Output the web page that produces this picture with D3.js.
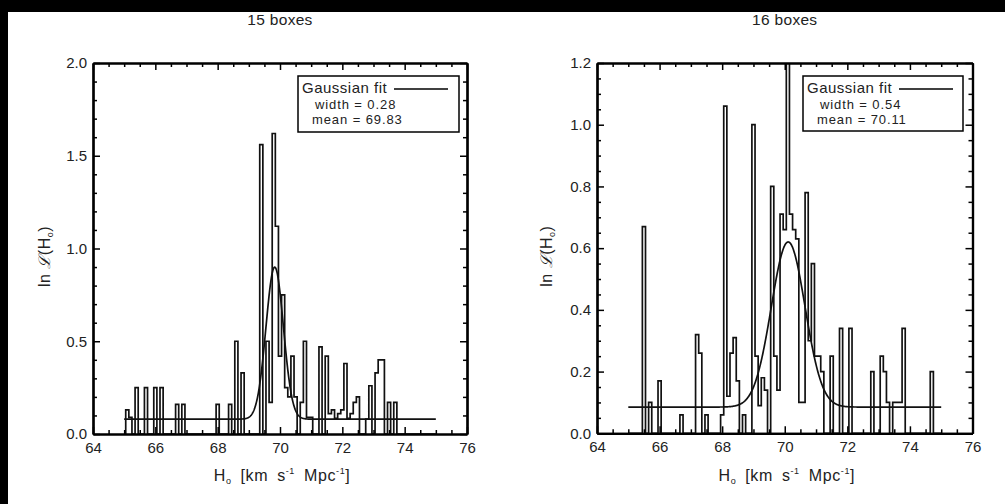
<!DOCTYPE html>
<html><head><meta charset="utf-8">
<script src="https://cdn.jsdelivr.net/npm/d3@7"></script>
<style>body{margin:0;background:#fff}svg{display:block}text{font-family:"Liberation Sans",Arial,sans-serif;fill:#222}</style>
</head><body><svg id="c" width="1005" height="504"></svg>
<script>
// ---------- data ----------
const titles = ["15 boxes", "16 boxes"];
const xTicks = [64, 66, 68, 70, 72, 74, 76];
const yTicksLeft = [0.0, 0.5, 1.0, 1.5, 2.0];
const yTicksRight = [0.0, 0.2, 0.4, 0.6, 0.8, 1.0, 1.2];

// bin centres (km/s/Mpc) and ln L for the non-empty bins, 15 boxes
const binsLeft = [65.1,65.2,65.4,65.7,66.0,66.2,66.7,66.9,68.0,68.4,68.6,68.8,
  69.4,69.6,69.7,69.8,69.9,70.0,70.1,70.2,70.3,70.4,70.5,70.7,70.8,70.9,71.0,
  71.3,71.5,71.6,71.7,71.8,71.9,72.0,72.1,72.2,72.3,72.4,72.5,72.8,72.9,73.1,73.2,73.3,73.5,73.7];
const valsLeft = [0.13,0.09,0.25,0.25,0.25,0.25,0.16,0.16,0.16,0.16,0.50,0.33,
  1.56,0.50,0.17,1.62,1.12,0.42,0.75,0.25,0.20,0.42,0.20,0.17,0.50,0.09,0.09,
  0.47,0.42,0.11,0.13,0.085,0.11,0.13,0.38,0.085,0.11,0.17,0.20,0.08,0.26,0.33,0.40,0.40,0.17,0.17];

// 16 boxes
const binsRight = [65.5,65.7,66.0,66.7,67.2,67.3,67.5,68.0,68.1,68.2,68.3,68.4,68.5,68.7,
  69.0,69.1,69.2,69.3,69.4,69.6,69.7,69.8,69.9,70.0,70.1,70.2,70.3,70.4,70.5,70.6,70.7,70.8,70.9,
  71.0,71.1,71.2,71.5,71.8,72.1,72.8,73.1,73.2,73.3,73.5,73.6,73.7,73.8,74.7];
const valsRight = [0.67,0.10,0.17,0.06,0.32,0.26,0.06,0.06,1.06,0.12,0.26,0.31,0.17,0.06,
  1.00,0.25,0.09,0.18,0.14,0.80,0.25,0.14,0.71,0.66,1.25,0.71,0.66,0.63,0.10,0.10,0.78,0.30,0.55,
  0.25,0.25,0.20,0.25,0.34,0.34,0.20,0.25,0.20,0.10,0.10,0.10,0.10,0.34,0.20];

// Gaussian fit parameters (legend) plus peak and baseline
const fitWidth = [0.28, 0.54];
const fitMean = [69.83, 70.11];
const fitPeak = [0.90, 0.62];
const fitBase = [0.08, 0.085];
const fitRange = [65, 75];
const binStep = 0.1;

// ---------- layout ----------
const svg = d3.select("#c");
svg.append("rect").attr("x", 0).attr("y", 0).attr("width", 1005).attr("height", 12).attr("fill", "#000");
svg.append("rect").attr("x", 0).attr("y", 0).attr("width", 8).attr("height", 504).attr("fill", "#000");

const FONT = '"Liberation Sans",Arial,sans-serif';
const panels = [
  {x0: 93, x1: 467, yT: 63, yB: 434, yDom: [0, 2], yTicks: yTicksLeft, yMinor: 0.1, fmt: d3.format(".1f"),
   bins: binsLeft, vals: valsLeft, k: 0, leg: {x: 298, y: 76, w: 161, h: 56}, ylabX: 50},
  {x0: 597, x1: 972.5, yT: 63, yB: 433.3, yDom: [0, 1.2], yTicks: yTicksRight, yMinor: 0.05, fmt: d3.format(".1f"),
   bins: binsRight, vals: valsRight, k: 1, leg: {x: 803, y: 76, w: 160, h: 55}, ylabX: 552}
];

panels.forEach((p, pi) => {
  const x = d3.scaleLinear().domain([64, 76]).range([p.x0, p.x1]);
  const y = d3.scaleLinear().domain(p.yDom).range([p.yB, p.yT]);
  const g = svg.append("g");
  const cid = "clip" + pi;
  svg.append("clipPath").attr("id", cid).append("rect")
    .attr("x", p.x0).attr("y", p.yT).attr("width", p.x1 - p.x0).attr("height", p.yB - p.yT);

  // histogram (IDL psym=10 style steps)
  const m = new Map();
  p.bins.forEach((b, i) => m.set(Math.round(b * 10), p.vals[i]));
  const k0 = Math.round(fitRange[0] * 10), k1 = Math.round(fitRange[1] * 10);
  const pts = [];
  for (let k = k0; k <= k1; k++) {
    const v = m.has(k) ? m.get(k) : 0;
    const c = k / 10;
    const a = k === k0 ? c : c - binStep / 2;
    const b = k === k1 ? c : c + binStep / 2;
    pts.push([a, v], [b, v]);
  }
  g.append("path").attr("clip-path", `url(#${cid})`)
    .attr("d", d3.line().x(d => x(d[0])).y(d => y(d[1]))(pts))
    .attr("fill", "none").attr("stroke", "#111").attr("stroke-width", 1.7);

  // gaussian fit
  const gx = d3.range(fitRange[0], fitRange[1] + 1e-9, 0.01);
  const amp = fitPeak[p.k] - fitBase[p.k];
  g.append("path").attr("clip-path", `url(#${cid})`)
    .attr("d", d3.line().x(d => x(d)).y(d => y(fitBase[p.k] + amp * Math.exp(-((d - fitMean[p.k]) ** 2) / (2 * fitWidth[p.k] ** 2))))(gx))
    .attr("fill", "none").attr("stroke", "#111").attr("stroke-width", 1.7);

  // axes: box with inward ticks
  const xMinor = d3.range(64, 76.001, 0.5).filter(v => Math.abs(v / 2 - Math.round(v / 2)) > 1e-6);
  const yMinorT = d3.range(p.yDom[0], p.yDom[1] + 1e-6, p.yMinor).filter(v => !p.yTicks.some(t => Math.abs(t - v) < 1e-6));
  const styleAxis = sel => {
    sel.select(".domain").attr("stroke", "#000").attr("stroke-width", 2.2);
    sel.selectAll(".tick line").attr("stroke", "#000").attr("stroke-width", 1.5);
    sel.selectAll("text").attr("font-size", 15).attr("fill", "#2a2a2a").attr("font-family", FONT);
  };
  // bottom
  g.append("g").attr("transform", `translate(0,${p.yB})`)
    .call(d3.axisBottom(x).tickValues(xTicks).tickFormat(d3.format("d")).tickSize(-7).tickPadding(8).tickSizeOuter(0)).call(styleAxis);
  g.append("g").attr("transform", `translate(0,${p.yB})`)
    .call(d3.axisBottom(x).tickValues(xMinor).tickFormat("").tickSize(-4).tickSizeOuter(0)).call(styleAxis);
  // top
  g.append("g").attr("transform", `translate(0,${p.yT})`)
    .call(d3.axisTop(x).tickValues(xTicks).tickFormat("").tickSize(-7).tickSizeOuter(0)).call(styleAxis);
  g.append("g").attr("transform", `translate(0,${p.yT})`)
    .call(d3.axisTop(x).tickValues(xMinor).tickFormat("").tickSize(-4).tickSizeOuter(0)).call(styleAxis);
  // left
  g.append("g").attr("transform", `translate(${p.x0},0)`)
    .call(d3.axisLeft(y).tickValues(p.yTicks).tickFormat(p.fmt).tickSize(-7).tickPadding(6).tickSizeOuter(0)).call(styleAxis);
  g.append("g").attr("transform", `translate(${p.x0},0)`)
    .call(d3.axisLeft(y).tickValues(yMinorT).tickFormat("").tickSize(-4).tickSizeOuter(0)).call(styleAxis);
  // right
  g.append("g").attr("transform", `translate(${p.x1},0)`)
    .call(d3.axisRight(y).tickValues(p.yTicks).tickFormat("").tickSize(-7).tickSizeOuter(0)).call(styleAxis);
  g.append("g").attr("transform", `translate(${p.x1},0)`)
    .call(d3.axisRight(y).tickValues(yMinorT).tickFormat("").tickSize(-4).tickSizeOuter(0)).call(styleAxis);

  // title
  g.append("text").attr("x", (p.x0 + p.x1) / 2).attr("y", 25).attr("text-anchor", "middle")
    .attr("font-size", 15.5).attr("letter-spacing", 0.3).text(titles[pi]);

  // x label
  const xl = g.append("text").attr("x", (p.x0 + p.x1) / 2 + 2).attr("y", 481).attr("text-anchor", "middle")
    .attr("font-size", 16).attr("letter-spacing", 0.6).attr("word-spacing", 4);
  xl.append("tspan").text("H");
  xl.append("tspan").attr("font-size", 9).attr("dy", 3).text("o");
  xl.append("tspan").attr("dy", -3).text(" [km s");
  xl.append("tspan").attr("font-size", 9).attr("dy", -7).text("-1");
  xl.append("tspan").attr("dy", 7).text(" Mpc");
  xl.append("tspan").attr("font-size", 9).attr("dy", -7).text("-1");
  xl.append("tspan").attr("dy", 7).text("]");

  // y label
  const yl = g.append("text").attr("transform", `translate(${p.ylabX},${(p.yT + p.yB) / 2 + 8}) rotate(-90)`)
    .attr("text-anchor", "middle").attr("font-size", 16).attr("letter-spacing", 0.5);
  yl.append("tspan").text("ln  ");
  yl.append("tspan").attr("font-style", "italic").attr("font-family", '"DejaVu Serif",serif').text("ℒ");
  yl.append("tspan").text("(H");
  yl.append("tspan").attr("font-size", 9).attr("dy", 3).text("o");
  yl.append("tspan").attr("dy", -3).text(")");

  // legend
  const L = p.leg;
  g.append("rect").attr("x", L.x).attr("y", L.y).attr("width", L.w).attr("height", L.h)
    .attr("fill", "#fff").attr("stroke", "#000").attr("stroke-width", 1.5);
  g.append("text").attr("x", L.x + 4).attr("y", L.y + 17).attr("font-size", 15).attr("letter-spacing", 0.5).text("Gaussian fit");
  g.append("line").attr("x1", L.x + 96).attr("x2", L.x + 150).attr("y1", L.y + 13).attr("y2", L.y + 13)
    .attr("stroke", "#000").attr("stroke-width", 1.5);
  g.append("text").attr("x", L.x + 17).attr("y", L.y + 33).attr("font-size", 13).attr("letter-spacing", 0.9).text("width = " + d3.format(".2f")(fitWidth[p.k]));
  g.append("text").attr("x", L.x + 14).attr("y", L.y + 48).attr("font-size", 13).attr("letter-spacing", 0.9).text("mean = " + d3.format(".2f")(fitMean[p.k]));
});
</script></body></html>
